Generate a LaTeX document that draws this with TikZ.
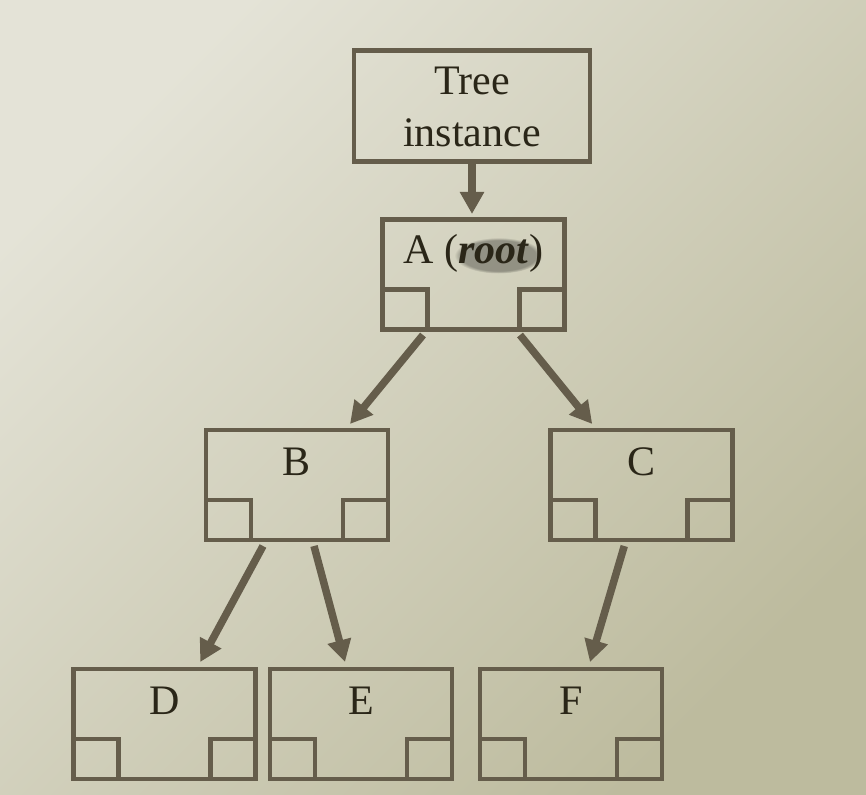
\documentclass[tikz,border=0pt]{standalone}
\usepackage{fontspec}
\setmainfont{Liberation Serif}
\usetikzlibrary{arrows.meta,calc,fadings}
\definecolor{bdr}{HTML}{655D4B}
\definecolor{txt}{HTML}{2A2618}
\definecolor{bgA}{HTML}{E4E3D7}
\definecolor{bgB}{HTML}{BDBB9E}
\tikzset{
  tbox/.style={draw=bdr, line width=4.8pt, rectangle, inner sep=0pt, outer sep=0pt,
    minimum width=182pt, minimum height=110pt},
  sq/.style={draw=bdr, line width=4.8pt, line join=miter},
  lbl/.style={text=txt, inner sep=0pt, font=\fontsize{42}{52}\selectfont, anchor=base},
  arr/.style={draw=bdr, line width=7.5pt, -{Triangle[length=22pt,width=23pt]}}
}
\begin{document}
\begin{tikzpicture}[x=1pt,y=-1pt]
  \shade[shading=axis, top color=bgA, bottom color=bgB, shading angle=45] (0,0) rectangle (866,794);
  \useasboundingbox (0,0) rectangle (866,794);

  % boxes
  \node[tbox, minimum width=236pt, minimum height=111pt] (T) at (472,106) {};
  \node[tbox] (A) at (473.5,274.5) {};
  \node[tbox] (B) at (297,485) {};
  \node[tbox] (C) at (641.25,485) {};
  \node[tbox] (D) at (164.25,724) {};
  \node[tbox] (E) at (361,724) {};
  \node[tbox] (F) at (571,724) {};

  % small corner squares
  \foreach \n in {A,B,C,D,E,F}{
    \draw[sq] (\n.south west) rectangle ++(45,-40);
    \draw[sq] (\n.south east) rectangle ++(-45,-40);
  }

  % soft shadow under "root"
  \fill[black, opacity=0.3, path fading=circle with fuzzy edge 15 percent]
    ($(A.north)+(25,36)$) ellipse [x radius=44pt, y radius=18pt];

  % labels
  \node[lbl] (Tl1) at ($(T.north)+(0,44.5)$) {Tree};
  \node[lbl] (Tl2) at ($(T.north)+(0,96.5)$) {instance};
  \node[lbl] (Al) at ($(A.north)+(0,43.5)$) {A (\textbf{\textit{root}})};
  \node[lbl] (Bl) at ($(B.north)+(0,45)$) {B};
  \node[lbl] (Cl) at ($(C.north)+(0,45)$) {C};
  \node[lbl] (Dl) at ($(D.north)+(0,45)$) {D};
  \node[lbl] (El) at ($(E.north)+(0,45)$) {E};
  \node[lbl] (Fl) at ($(F.north)+(0,45)$) {F};

  % connectors
  \draw[arr, shorten <=2.5pt, shorten >=5.5pt] (T.south) -- (T.south |- A.north);
  \draw[arr] ($(A.south)+(-50.5,5.5)$) -- ($(B.north)+(53,-6)$);
  \draw[arr] ($(A.south)+(46.5,5.5)$) -- ($(C.north)+(-49,-6)$);
  \draw[arr] ($(B.south)+(-34,6)$) -- ($(D.north)+(36,-7)$);
  \draw[arr] ($(B.south)+(17,6)$) -- ($(E.north)+(-16,-7)$);
  \draw[arr] ($(C.south)+(-17,6)$) -- ($(F.north)+(19,-7)$);
\end{tikzpicture}
\end{document}
